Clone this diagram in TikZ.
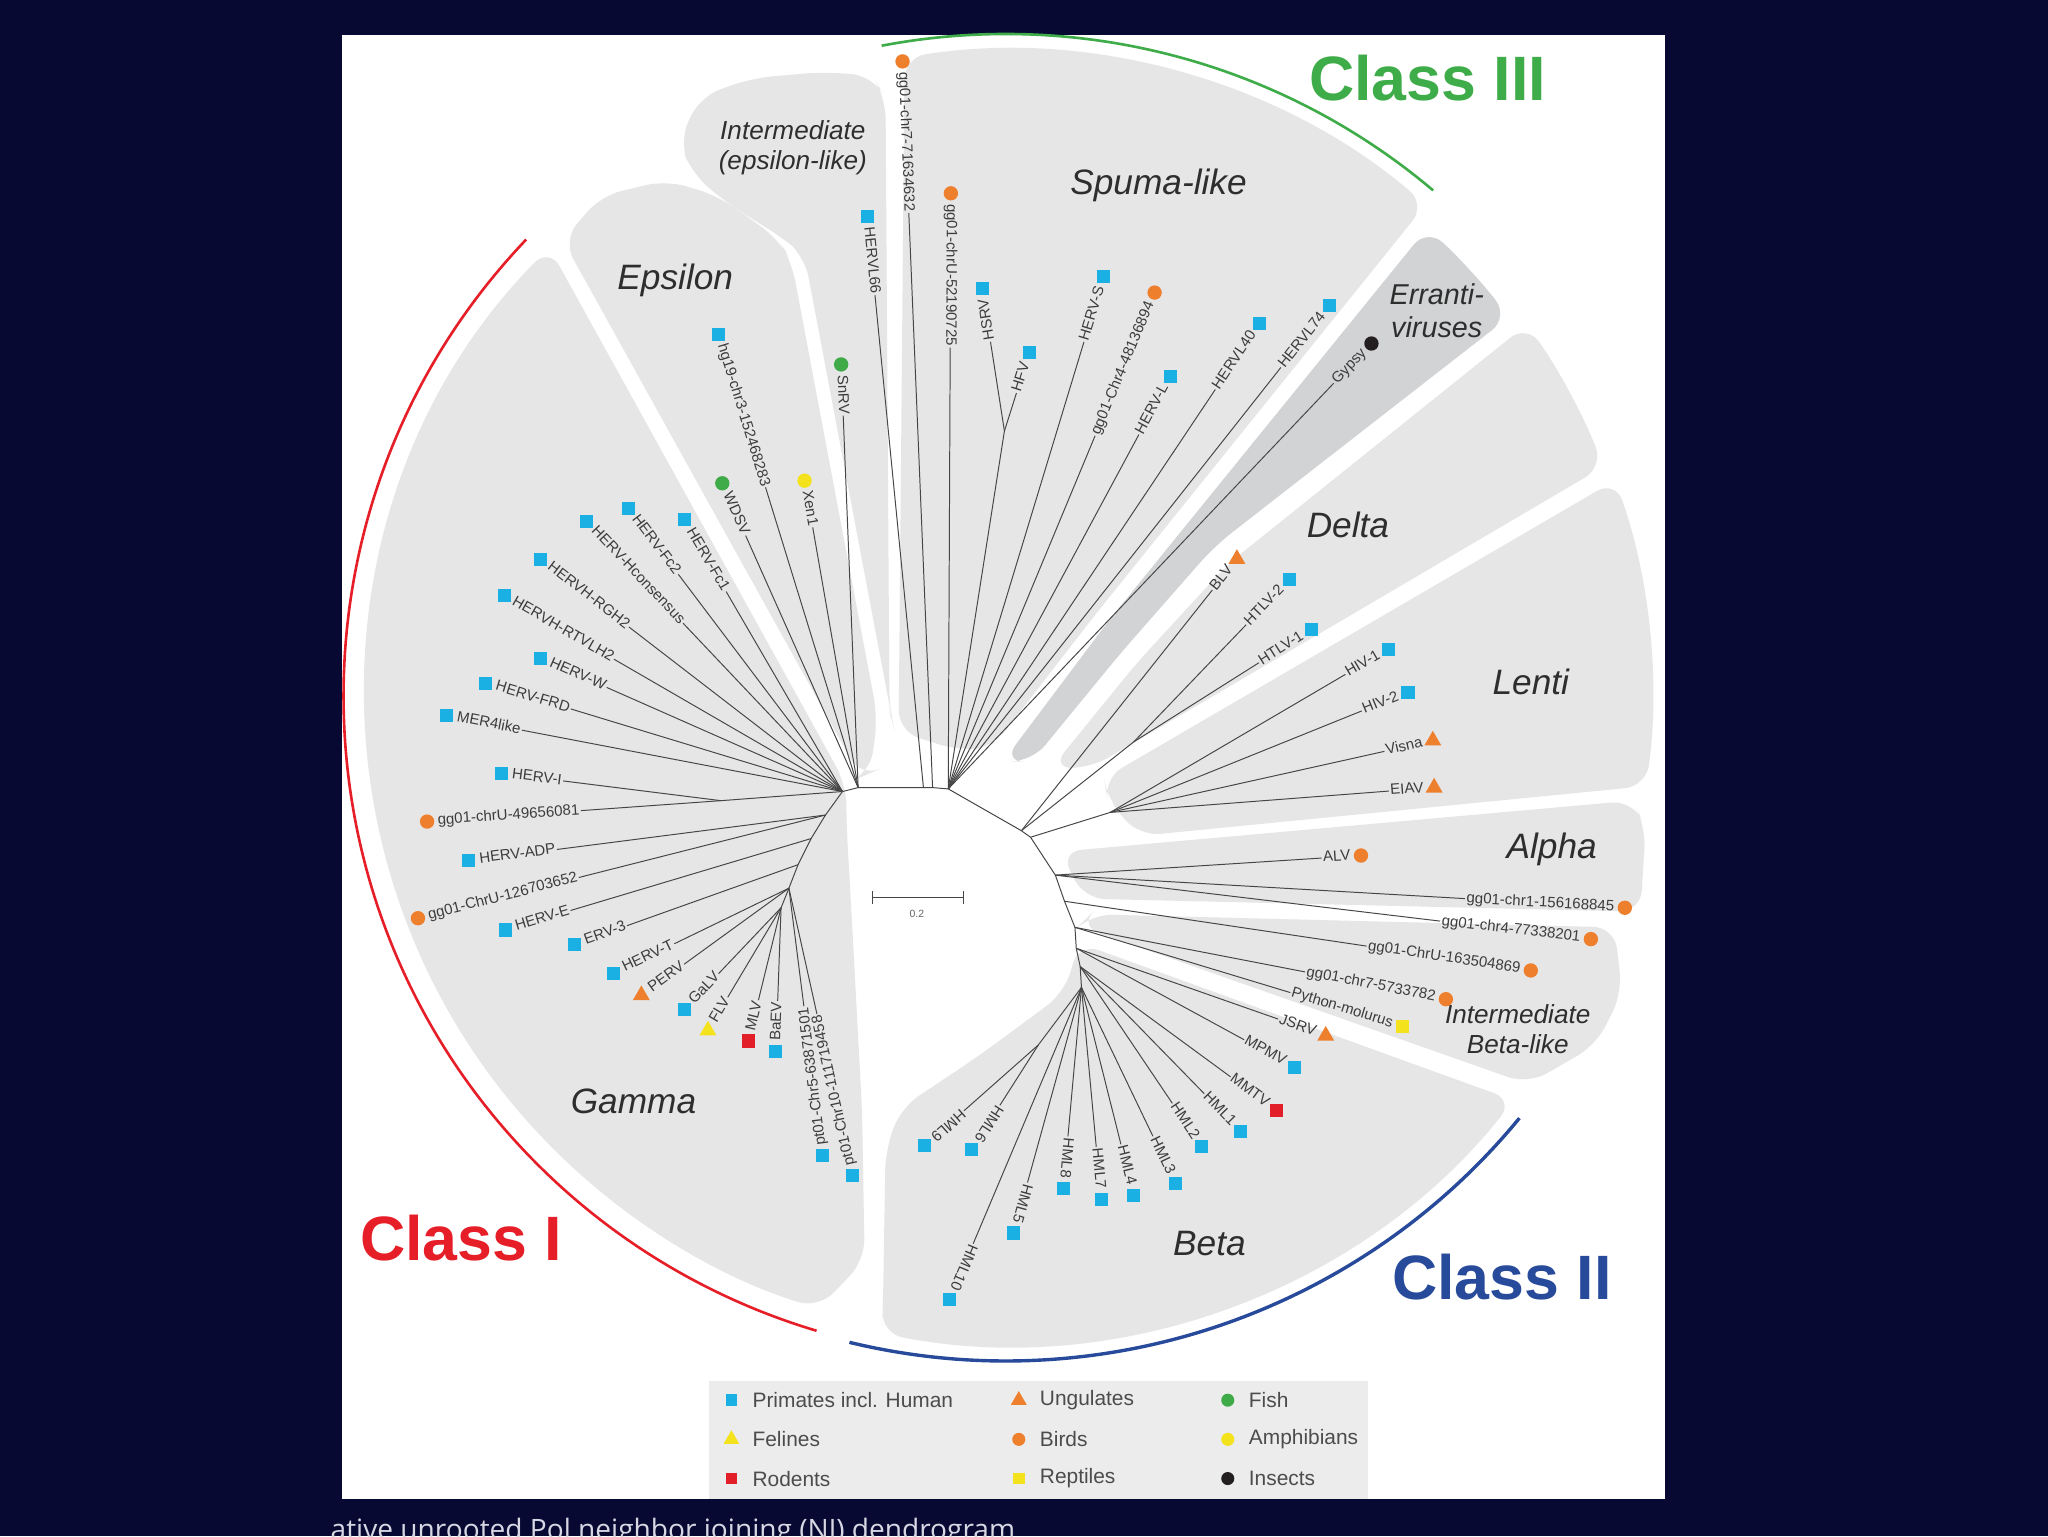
\documentclass[tikz,border=0pt]{standalone}
\usepackage{fontspec}
\setmainfont{Liberation Sans}
\newfontfamily\capfont{Open Sans}
\usetikzlibrary{calc,shapes.geometric}
\definecolor{navy}{RGB}{7,9,50}
\definecolor{captext}{RGB}{215,215,228}
\definecolor{secgray}{RGB}{230,230,231}
\definecolor{erragray}{RGB}{210,211,212}
\definecolor{leggray}{RGB}{236,236,236}
\definecolor{cprim}{RGB}{27,176,228}
\definecolor{cbird}{RGB}{238,127,44}
\definecolor{cfish}{RGB}{62,170,72}
\definecolor{cyel}{RGB}{244,226,28}
\definecolor{cred}{RGB}{226,30,40}
\definecolor{cblack}{RGB}{35,31,32}
\definecolor{lblgray}{RGB}{60,60,60}
\definecolor{brgray}{RGB}{70,70,70}
\definecolor{classred}{RGB}{230,30,40}
\definecolor{classblue}{RGB}{40,74,155}
\definecolor{classgreen}{RGB}{62,172,72}
\tikzset{
 sec/.style={fill=secgray, rounded corners=16pt},
 br/.style={draw=brgray, line width=0.75pt},
 lbl/.style={font=\fontsize{11.5}{12}\selectfont, text=lblgray, inner sep=1pt, text height=8pt, text depth=2pt},
 mk/.style={inner sep=0pt, draw=none},
 prim/.style={mk, rectangle, fill=cprim, minimum size=10pt},
 rod/.style={mk, rectangle, fill=cred, minimum size=10pt},
 rept/.style={mk, rectangle, fill=cyel, minimum size=10pt},
 bird/.style={mk, circle, fill=cbird, minimum size=11pt},
 fish/.style={mk, circle, fill=cfish, minimum size=11pt},
 amph/.style={mk, circle, fill=cyel, minimum size=11pt},
 insect/.style={mk, circle, fill=cblack, minimum size=11pt},
 ung/.style={mk, regular polygon, regular polygon sides=3, fill=cbird, minimum size=15pt},
 fel/.style={mk, regular polygon, regular polygon sides=3, fill=cyel, minimum size=15pt},
 clade/.style={font=\fontsize{27}{30}\selectfont\itshape, text=black!82},
 cladesm/.style={font=\fontsize{20}{23}\selectfont\itshape, text=black!82, align=center},
 classlbl/.style={font=\fontsize{48}{50}\selectfont\bfseries},
 legtxt/.style={font=\fontsize{16}{18}\selectfont, text=black!70, anchor=west, inner sep=0pt},
}
% outward label: text ends at the marker
\newcommand\leafo[5]{%
  \node[#5] (#1) at (#3) {};
  \path let \p1=($(#1)-(#2)$), \n1={atan2(\y1,\x1)} in
    ($(#1)!7pt!(#2)$) node[lbl, rotate=\n1, anchor=east] (#1t) {#4};
  \draw[br] (#2) -- (#1t.west);
}
% inward label: text starts at the marker
\newcommand\leafi[5]{%
  \node[#5] (#1) at (#3) {};
  \path let \p1=($(#1)-(#2)$), \n1={atan2(\y1,\x1)+180} in
    ($(#1)!7pt!(#2)$) node[lbl, rotate=\n1, anchor=west] (#1t) {#4};
  \draw[br] (#2) -- (#1t.east);
}
\begin{document}
\begin{tikzpicture}[x=1pt,y=-1pt]
\useasboundingbox (0,0) rectangle (1568,1176);
\clip (0,0) rectangle (1568,1176);
\fill[navy] (0,0) rectangle (1568,1176);
\fill[white] (262,27) rectangle (1275,1148);

% ---------- sectors ----------
\begin{scope}[shift={(770,533)}, y=1pt]
 % Gamma
 \fill[sec] (-122,-68) -- (135.5:490) arc[start angle=135.5,end angle=253,radius=490]
   -- (-108,-432) -- (-110,-317) -- (-118,-167) -- (-122,-97) -- cycle;
 % Epsilon
 \fill[sec] (-111,-62) -- (-339,349) -- (-310,383) -- (-260,395) -- (-220,383)
   -- (-174,350) -- (-164,333) -- (-98,-17) -- (-104,-59) -- cycle;
 % Intermediate (epsilon-like)
 \fill[sec] (-86,-23) -- (-154,337) -- (-168,349) -- (-214,378) -- (-240,400)
   -- (-250,425) -- (-234,459) -- (-195,473) -- (-140,478) -- (-102,475)
   -- (-92,458) -- (-89,-12) -- cycle;
 % Spuma-like
 \fill[sec] (-82,-27) -- (99:495) arc[start angle=99,end angle=49.5,radius=495]
   -- (69,63) -- (-10,-39) -- (-35,-42) -- cycle;
 % Errantiviruses
 \fill[sec, fill=erragray] (-2,-50) -- (79,58) -- (48:482) arc[start angle=48,end angle=37,radius=482]
   -- (160,115) -- (88,33) -- (20,-50) -- cycle;
 % Delta
 \fill[sec] (35,-55) -- (100,25) -- (170,101) -- (35.5:490) arc[start angle=35.5,end angle=21,radius=490]
   -- (65,-55) -- cycle;
 % Lenti
 \fill[sec] (78,-79) -- (75,-63) -- (19.5:495) arc[start angle=19.5,end angle=-8,radius=495]
   -- (102,-107) -- cycle;
 % Alpha
 \fill[sec] (42,-119) -- (480,-80) -- (490,-100) -- (486,-165) -- (60,-155) -- cycle;
 % Intermediate Beta-like
 \fill[sec] (65,-167) -- (466,-177) -- (472,-227) -- (452,-267) -- (400,-297) -- (56,-176) -- cycle;
 % Beta
 \fill[sec] (56,-189) -- (-38.5:497) arc[start angle=-38.5,end angle=-101,radius=497]
   -- (-94,-467) -- (-92,-347) -- (-80,-315) -- (-20,-275) -- (45,-227) -- cycle;
 % class arcs
 \draw[classred, line width=2pt] (136.4:507) arc[start angle=136.4,end angle=253.4,radius=507];
 \draw[classblue, line width=2.6pt] (256.4:509) arc[start angle=256.4,end angle=320.6,radius=509];
 \draw[classgreen, line width=2pt] (100.8:507) arc[start angle=100.8,end angle=49.8,radius=507];
\end{scope}

% ---------- internal nodes ----------
\coordinate (gA) at (645,606);
\coordinate (gI) at (552,613);
\coordinate (gB) at (632,624);
\coordinate (gC) at (621,642);
\coordinate (gD) at (611,662);
\coordinate (gE) at (604,680);
\coordinate (gF) at (598,695);
\coordinate (eps) at (657,603);
\coordinate (t1) at (707,603);
\coordinate (t2) at (714,603);
\coordinate (t3) at (726,604);
\coordinate (spH) at (769,330);
\coordinate (d0) at (782,636);
\coordinate (dH) at (868,568);
\coordinate (l0) at (789,641);
\coordinate (lA) at (850,622);
\coordinate (a0) at (808,670);
\coordinate (ib) at (815,690);
\coordinate (ib0) at (823,710);
\coordinate (b1) at (824,726);
\coordinate (b2) at (827,740);
\coordinate (b3) at (828,756);
\coordinate (bH) at (795,800);

\draw[br] (gF) -- (gE) -- (gD) -- (gC) -- (gB) -- (gA) -- (eps) -- (t1) -- (t2) -- (t3)
  -- (d0) -- (l0) -- (a0) -- (ib) -- (ib0) -- (b1) -- (b2) -- (b3);
\draw[br] (gI) -- (gA);
\draw[br] (spH) -- (t3);
\draw[br] (dH) -- (d0);
\draw[br] (lA) -- (l0);
\draw[br] (bH) -- (b3);

% ---------- leaves: Gamma ----------
\leafi{fc1}{gA}{524,398}{HERV-Fc1}{prim}
\leafi{fc2}{gA}{481,389}{HERV-Fc2}{prim}
\leafi{hcon}{gA}{449,399}{HERV-Hconsensus}{prim}
\leafi{rgh}{gA}{414,428}{HERVH-RGH2}{prim}
\leafi{rtv}{gA}{386,456}{HERVH-RTVLH2}{prim}
\leafi{hw}{gA}{414,504}{HERV-W}{prim}
\leafi{frd}{gA}{372,523}{HERV-FRD}{prim}
\leafi{mer}{gA}{342,548}{MER4like}{prim}
\leafi{hi}{gI}{384,592}{HERV-I}{prim}
\leafi{gfn}{gI}{327,629}{gg01-chrU-49656081}{bird}
\leafi{adp}{gB}{359,659}{HERV-ADP}{prim}
\leafi{gots}{gB}{320,703}{gg01-ChrU-126703652}{bird}
\leafi{he}{gC}{387,712}{HERV-E}{prim}
\leafi{erv}{gD}{440,723}{ERV-3}{prim}
\leafi{ht}{gE}{470,745}{HERV-T}{prim}
\leafi{perv}{gE}{491,762}{PERV}{ung}
\leafi{galv}{gF}{524,773}{GaLV}{prim}
\leafi{flv}{gF}{542,789}{FLV}{fel}
\leafi{mlv}{gF}{573,797}{MLV}{rod}
\leafi{baev}{gF}{594,805}{BaEV}{prim}
\leafi{cfive}{gE}{630,885}{pt01-Chr5-63871501}{prim}
\leafi{cten}{gE}{653,900}{pt01-Chr10-111719458}{prim}

% ---------- Epsilon / intermediate ----------
\leafi{wdsv}{eps}{553,370}{WDSV}{fish}
\leafi{hgn}{eps}{550,256}{hg19-chr3-152468283}{prim}
\leafi{xen}{eps}{616,368}{Xen1}{amph}
\leafi{snrv}{eps}{644,279}{SnRV}{fish}
\leafi{lsix}{t1}{664,166}{HERVL66}{prim}

% ---------- Spuma-like / Errantiviruses ----------
\leafi{cseven}{t2}{691,47}{gg01-chr7-71634632}{bird}
\leafi{cU}{t3}{728,148}{gg01-chrU-52190725}{bird}
\leafo{hsrv}{spH}{752,221}{HSRV}{prim}
\leafo{hfv}{spH}{788,270}{HFV}{prim}
\leafo{hs}{t3}{845,212}{HERV-S}{prim}
\leafo{cfour}{t3}{884,224}{gg01-Chr4-48136894}{bird}
\leafo{hl}{t3}{896,288}{HERV-L}{prim}
\leafo{lforty}{t3}{964,248}{HERVL40}{prim}
\leafo{lsev}{t3}{1018,234}{HERVL74}{prim}
\leafo{gyp}{t3}{1050,263}{Gypsy}{insect}

% ---------- Delta / Lenti ----------
\leafo{blv}{d0}{947,428}{BLV}{ung}
\leafo{htwo}{dH}{987,444}{HTLV-2}{prim}
\leafo{hone}{dH}{1004,482}{HTLV-1}{prim}
\leafo{hivone}{lA}{1063,497}{HIV-1}{prim}
\leafo{hivtwo}{lA}{1078,530}{HIV-2}{prim}
\leafo{visna}{lA}{1097,567}{Visna}{ung}
\leafo{eiav}{lA}{1098,603}{EIAV}{ung}

% ---------- Alpha / Intermediate Beta-like ----------
\leafo{alv}{a0}{1042,655}{ALV}{bird}
\leafo{cone}{a0}{1244,695}{gg01-chr1-156168845}{bird}
\leafo{cfr}{a0}{1218,719}{gg01-chr4-77338201}{bird}
\leafo{cus}{ib}{1172,743}{gg01-ChrU-163504869}{bird}
\leafo{cfs}{ib0}{1107,765}{gg01-chr7-5733782}{bird}
\leafo{pyth}{ib0}{1074,786}{Python-molurus}{rept}

% ---------- Beta ----------
\leafo{jsrv}{b1}{1015,793}{JSRV}{ung}
\leafo{mpmv}{b1}{991,817}{MPMV}{prim}
\leafo{mmtv}{b2}{977,850}{MMTV}{rod}
\leafo{hmla}{b2}{950,866}{HML1}{prim}
\leafo{hmlb}{b2}{920,878}{HML2}{prim}
\leafo{hmlc}{b3}{900,906}{HML3}{prim}
\leafo{hmld}{b3}{868,915}{HML4}{prim}
\leafo{hmlg}{b3}{843,918}{HML7}{prim}
\leafo{hmlh}{b3}{814,910}{HML8}{prim}
\leafo{hmle}{b3}{776,944}{HML5}{prim}
\leafo{hmlj}{b3}{727,995}{HML10}{prim}
\leafo{hmli}{bH}{708,877}{HML9}{prim}
\leafo{hmlf}{bH}{744,880}{HML6}{prim}

% ---------- scale bar ----------
\coordinate (sbL) at (668,687);
\coordinate (sbR) at (738,687);
\draw[br] (sbL) -- (sbR);
\draw[br] ($(sbL)+(0,-5)$) -- ($(sbL)+(0,5)$);
\draw[br] ($(sbR)+(0,-5)$) -- ($(sbR)+(0,5)$);
\node[font=\fontsize{8}{9}\selectfont, text=black!60] (sbt) at (702,700) {0.2};

% ---------- clade labels ----------
\node[clade] (lspuma) at (887,142) {Spuma-like};
\node[clade] (leps) at (517,215) {Epsilon};
\node[cladesm] (lint1) at (607,113) {Intermediate\\(epsilon-like)};
\node[cladesm, font=\fontsize{22}{25}\selectfont\itshape] (lerr) at (1100,238) {Erranti-\\viruses};
\node[clade] (ldelta) at (1032,402) {Delta};
\node[clade] (llenti) at (1172,522) {Lenti};
\node[clade] (lalpha) at (1188,650) {Alpha};
\node[cladesm] (lint2) at (1162,788) {Intermediate\\Beta-like};
\node[clade] (lgamma) at (485,843) {Gamma};
\node[clade] (lbeta) at (926,952) {Beta};

% ---------- class labels ----------
\node[classlbl, text=classgreen] (c3) at (1093,60) {Class III};
\node[classlbl, text=classred] (c1) at (353,948) {Class I};
\node[classlbl, text=classblue] (c2) at (1150,978) {Class II};

% ---------- legend ----------
\fill[leggray] (543,1057) rectangle (1047,1148);
\node[prim, minimum size=9pt] (lg1) at (560,1072) {};
\node[legtxt] (lt1) at (576,1072) {Primates incl. Human};
\node[fel, minimum size=14pt] (lg2) at (560,1102) {};
\node[legtxt] (lt2) at (576,1102) {Felines};
\node[rod, minimum size=9pt] (lg3) at (560,1132) {};
\node[legtxt] (lt3) at (576,1132) {Rodents};
\node[ung, minimum size=14pt] (lg4) at (780,1072) {};
\node[legtxt] (lt4) at (796,1072) {Ungulates};
\node[bird, minimum size=10pt] (lg5) at (780,1102) {};
\node[legtxt] (lt5) at (796,1102) {Birds};
\node[rept, minimum size=9pt] (lg6) at (780,1132) {};
\node[legtxt] (lt6) at (796,1132) {Reptiles};
\node[fish, minimum size=10pt] (lg7) at (940,1072) {};
\node[legtxt] (lt7) at (956,1072) {Fish};
\node[amph, minimum size=10pt] (lg8) at (940,1102) {};
\node[legtxt] (lt8) at (956,1102) {Amphibians};
\node[insect, minimum size=10pt] (lg9) at (940,1132) {};
\node[legtxt] (lt9) at (956,1132) {Insects};

% ---------- caption (cut off at the bottom, as in the reference) ----------
\node[anchor=base west, inner sep=0pt, text=captext, font=\capfont\fontsize{21.5}{23}\selectfont] (cap) at (253,1179) {ative unrooted Pol neighbor joining (NJ) dendrogram};
\end{tikzpicture}
\end{document}
